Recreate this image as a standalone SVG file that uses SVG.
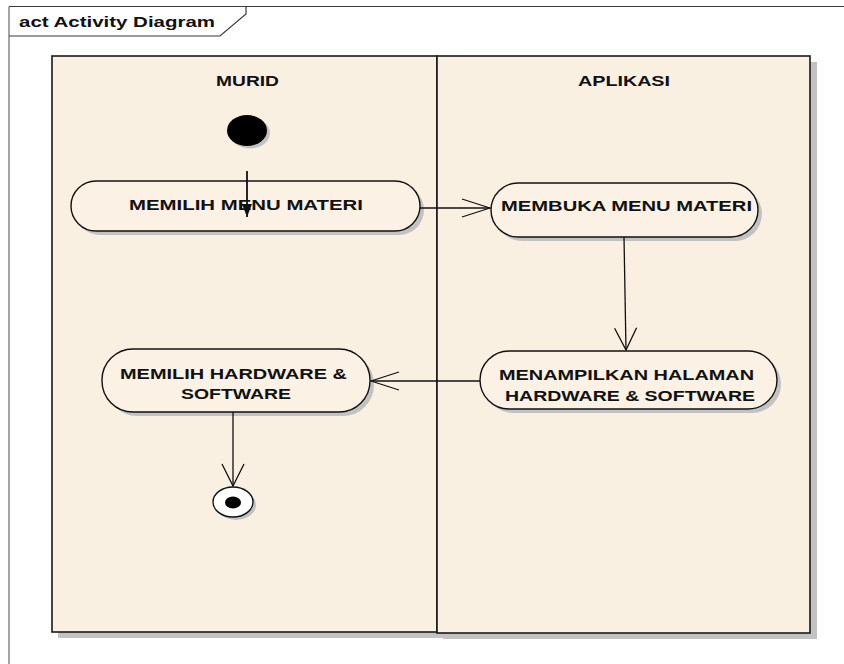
<svg xmlns="http://www.w3.org/2000/svg" width="844" height="664" viewBox="0 0 844 664">
  <defs>
    <style>
      .frame { fill: none; stroke: #3a3a3a; stroke-width: 1.2; }
      .lane { fill: #FAF0E2; stroke: #1a1a1a; stroke-width: 1.6; }
      .shadow { fill: #C2C2C2; stroke: none; }
      .act { fill: #FBF1E4; stroke: #111; stroke-width: 1.4; }
      .lbl { font-family: "Liberation Sans", Arial, sans-serif; font-weight: bold; font-size: 15px; fill: #111; }
      .edge { fill: none; stroke: #111; stroke-width: 1.3; }
    </style>
    <marker id="open" viewBox="0 0 30 20" refX="29" refY="10" markerWidth="30" markerHeight="20" markerUnits="userSpaceOnUse" orient="auto">
      <path d="M1,1 L29,10 L1,19" fill="none" stroke="#111" stroke-width="1.3"/>
    </marker>
    <marker id="openV" viewBox="0 0 24 24" refX="23" refY="12" markerWidth="24" markerHeight="24" markerUnits="userSpaceOnUse" orient="auto">
      <path d="M1,1 L23,12 L1,23" fill="none" stroke="#111" stroke-width="1.3"/>
    </marker>
    <marker id="solid" viewBox="0 0 14 12" refX="13" refY="6" markerWidth="14" markerHeight="12" markerUnits="userSpaceOnUse" orient="auto">
      <path d="M0,1 L13,6 L0,11 Z" fill="#111"/>
    </marker>
  </defs>

  <!-- diagram frame -->
  <g id="frame">
    <line class="frame" x1="9" y1="6.5" x2="844" y2="6.5"/>
    <line class="frame" x1="9" y1="6.5" x2="9" y2="664" style="stroke:#6a6a6a"/>
    <path class="frame" d="M9,36 H220 L246,14 V6.5"/>
    <text class="lbl" x="19" y="27" textLength="196" lengthAdjust="spacingAndGlyphs" style="font-size:14px">act Activity Diagram</text>
  </g>

  <!-- swimlanes -->
  <g id="lane-murid">
    <rect class="shadow" x="58" y="62" width="385" height="576"/>
    <rect class="lane" x="52" y="56" width="385" height="576"/>
    <text class="lbl" x="216" y="86" textLength="63" lengthAdjust="spacingAndGlyphs">MURID</text>
  </g>
  <g id="lane-aplikasi">
    <rect class="shadow" x="443" y="62" width="374" height="577"/>
    <rect class="lane" x="437" y="56" width="373" height="577"/>
    <text class="lbl" x="578" y="86" textLength="92" lengthAdjust="spacingAndGlyphs">APLIKASI</text>
  </g>

  <!-- start -->
  <g id="start">
    <ellipse class="shadow" cx="250" cy="133" rx="20" ry="15.5"/>
    <ellipse cx="247" cy="130.5" rx="20" ry="15.5" fill="#000"/>
  </g>

  <!-- activities -->
  <g id="memilih-menu-materi">
    <rect class="shadow" x="75" y="185" width="349" height="50" rx="25" ry="25"/>
    <rect class="act" x="71" y="181" width="349" height="50" rx="25" ry="25"/>
    <text class="lbl" x="129" y="210" textLength="234" lengthAdjust="spacingAndGlyphs">MEMILIH MENU MATERI</text>
  </g>

  <g id="membuka-menu-materi">
    <rect class="shadow" x="495" y="187" width="267" height="54" rx="27" ry="27"/>
    <rect class="act" x="491" y="183" width="267" height="54" rx="27" ry="27"/>
    <text class="lbl" x="501" y="211" textLength="251" lengthAdjust="spacingAndGlyphs">MEMBUKA MENU MATERI</text>
  </g>

  <g id="menampilkan-halaman">
    <rect class="shadow" x="484" y="355" width="297" height="58" rx="29" ry="29"/>
    <rect class="act" x="480" y="351" width="297" height="58" rx="29" ry="29"/>
    <text class="lbl" x="499" y="380" textLength="255" lengthAdjust="spacingAndGlyphs">MENAMPILKAN HALAMAN</text>
    <text class="lbl" x="505" y="401" textLength="250" lengthAdjust="spacingAndGlyphs">HARDWARE &amp; SOFTWARE</text>
  </g>

  <g id="memilih-hardware-software">
    <rect class="shadow" x="106" y="353" width="268" height="63" rx="31" ry="31"/>
    <rect class="act" x="102" y="349" width="268" height="63" rx="31" ry="31"/>
    <text class="lbl" x="120" y="379" textLength="227" lengthAdjust="spacingAndGlyphs">MEMILIH HARDWARE &amp;</text>
    <text class="lbl" x="181" y="399" textLength="110" lengthAdjust="spacingAndGlyphs">SOFTWARE</text>
  </g>

  <!-- end -->
  <g id="end">
    <ellipse class="shadow" cx="236" cy="505" rx="20" ry="15"/>
    <ellipse cx="233" cy="502" rx="20" ry="15" fill="#FFFFFF" stroke="#111" stroke-width="1.4"/>
    <ellipse cx="233" cy="502.5" rx="8" ry="6" fill="#000"/>
  </g>

  <!-- control flows -->
  <g id="connectors">
    <line class="edge" x1="247" y1="171" x2="247" y2="217" marker-end="url(#solid)" style="stroke-width:1.8"/>
    <line class="edge" x1="420" y1="208" x2="490" y2="208" marker-end="url(#open)"/>
    <line class="edge" x1="624" y1="237" x2="626" y2="350" marker-end="url(#openV)"/>
    <line class="edge" x1="480" y1="381" x2="371" y2="381" marker-end="url(#open)"/>
    <line class="edge" x1="233" y1="412" x2="233" y2="486" marker-end="url(#openV)"/>
  </g>
</svg>
